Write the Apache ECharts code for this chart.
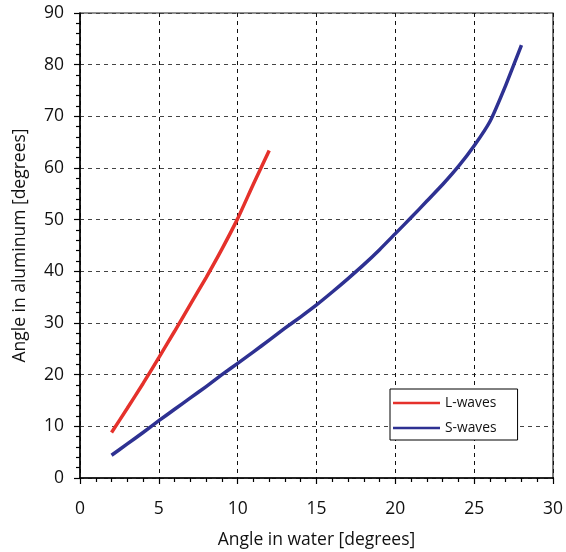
<!DOCTYPE html>
<html>
<head>
<meta charset="utf-8">
<script src="https://cdn.jsdelivr.net/npm/echarts@6/dist/echarts.min.js"></script>
<style>
  html, body { margin: 0; padding: 0; background: #fff; }
  #chart { width: 566px; height: 552px; }
</style>
</head>
<body>
<div id="chart"></div>
<script>
// Refraction angles: incidence in water vs. refracted angle in aluminum
const lWaterAngle = [2, 3, 4, 5, 6, 7, 8, 9, 10, 11, 12];
const lAluminumAngle = [8.8, 13.5, 18.3, 23.3, 28.4, 33.6, 38.8, 44.3, 50.2, 56.9, 63.4];

const sWaterAngle = [2, 3, 4, 5, 6, 7, 8, 9, 10, 11, 12, 13, 14, 15, 16, 17, 18, 19, 20,
                     21, 22, 23, 24, 25, 26, 27, 28];
const sAluminumAngle = [4.4, 6.6, 8.8, 11.1, 13.3, 15.5, 17.7, 20.0, 22.2, 24.4, 26.7, 29.0,
                        31.2, 33.5, 36.0, 38.6, 41.3, 44.2, 47.3, 50.4, 53.6, 56.8, 60.3,
                        64.3, 69.0, 76.0, 83.8];

const xTicks = [0, 5, 10, 15, 20, 25, 30];
const yTicks = [0, 10, 20, 30, 40, 50, 60, 70, 80, 90];

const FONT = 'Open Sans';
const pairs = (xs, ys) => xs.map((x, i) => [x, ys[i]]);

const chart = echarts.init(document.getElementById('chart'), null, { renderer: 'canvas' });

chart.setOption({
  animation: false,
  backgroundColor: '#fff',
  textStyle: { fontFamily: FONT },
  grid: {
    left: 80, top: 13, right: 13, bottom: 74,
    outerBoundsMode: 'none', containLabel: false,
    show: true, borderColor: '#222', borderWidth: 1.2, backgroundColor: 'transparent'
  },
  legend: {
    orient: 'vertical',
    left: 390, top: 389,
    padding: [7, 21, 5, 3],
    itemGap: 11,
    itemWidth: 47, itemHeight: 2.5,
    icon: 'rect',
    backgroundColor: '#fff',
    borderColor: '#000', borderWidth: 1,
    textStyle: { fontFamily: FONT, fontSize: 13.8, color: '#111' },
    data: ['L-waves', 'S-waves']
  },
  xAxis: {
    type: 'value',
    min: xTicks[0], max: xTicks[xTicks.length - 1], interval: 5,
    name: 'Angle in water [degrees]',
    nameLocation: 'middle', nameGap: 53,
    nameTextStyle: { fontFamily: FONT, fontSize: 17.5, color: '#111' },
    axisLine: { show: true, onZero: false, lineStyle: { color: '#000', width: 1.5 } },
    axisTick: { show: true, length: 6, lineStyle: { color: '#000', width: 1.2 } },
    minorTick: { show: true, splitNumber: 5, length: 4, lineStyle: { color: '#000', width: 1.2 } },
    axisLabel: { margin: 22, fontFamily: FONT, fontSize: 17.5, color: '#111' },
    splitLine: { show: true, lineStyle: { color: '#111', width: 1, type: [4, 4] } }
  },
  yAxis: {
    type: 'value',
    min: yTicks[0], max: yTicks[yTicks.length - 1], interval: 10,
    name: 'Angle in aluminum [degrees]',
    nameLocation: 'middle', nameGap: 51,
    nameTextStyle: { fontFamily: FONT, fontSize: 17.5, color: '#111' },
    axisLine: { show: true, onZero: false, lineStyle: { color: '#000', width: 1.5 } },
    axisTick: { show: true, length: 6, lineStyle: { color: '#000', width: 1.2 } },
    minorTick: { show: true, splitNumber: 5, length: 4, lineStyle: { color: '#000', width: 1.2 } },
    axisLabel: { margin: 16, fontFamily: FONT, fontSize: 17.5, color: '#111' },
    splitLine: { show: true, lineStyle: { color: '#444', width: 1, type: [4, 4] } }
  },
  series: [
    {
      name: 'L-waves', type: 'line',
      data: pairs(lWaterAngle, lAluminumAngle),
      symbol: 'none', smooth: 0.2,
      itemStyle: { color: '#e5312b' },
      lineStyle: { color: '#e5312b', width: 3.5, cap: 'butt' },
      z: 3
    },
    {
      name: 'S-waves', type: 'line',
      data: pairs(sWaterAngle, sAluminumAngle),
      symbol: 'none', smooth: 0.15,
      itemStyle: { color: '#2e3192' },
      lineStyle: { color: '#2e3192', width: 3.5, cap: 'butt', join: 'round' },
      z: 3
    }
  ]
});
</script>
</body>
</html>
